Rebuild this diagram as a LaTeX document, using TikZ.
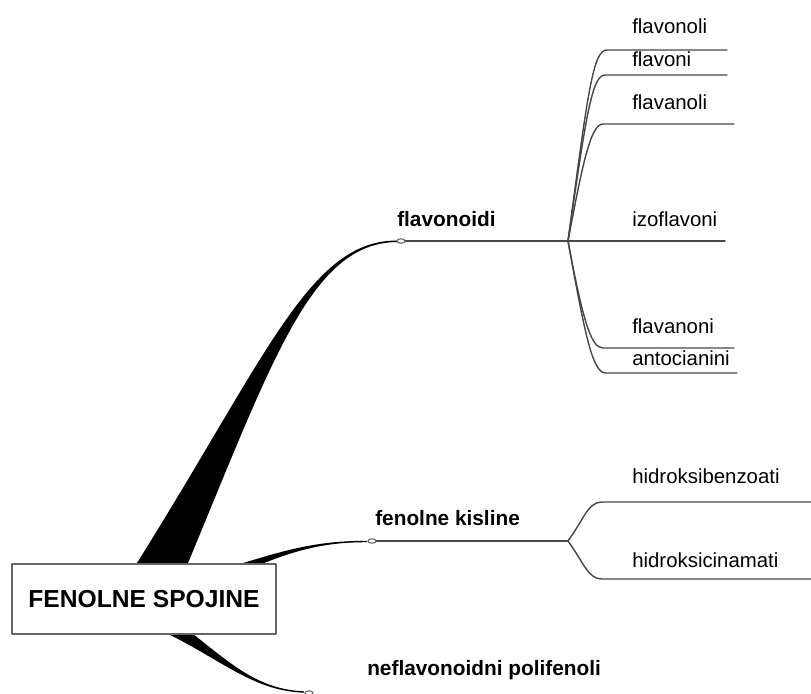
\documentclass[tikz,border=0pt]{standalone}
\usepackage{fontspec}
\setmainfont{Liberation Sans}
\usepackage{tikz}

\tikzset{
  stem/.style={fill=black},
  twig/.style={draw=black!72, line width=1pt},
  knot/.style={draw=black!60, fill=white, line width=0.8pt},
  rootbox/.style={draw=black!60, fill=white, line width=1.1pt, minimum width=6.6cm,
    minimum height=1.75cm, font=\fontsize{17.5}{20}\selectfont\bfseries},
  branch/.style={anchor=base west, inner sep=0pt, font=\fontsize{14.8}{17}\selectfont\bfseries},
  leaf/.style={anchor=base west, inner sep=0pt, font=\fontsize{14.5}{17}\selectfont},
}

\begin{document}
\begin{tikzpicture}[x=0.025cm, y=-0.025cm, line join=round, line cap=round]
\useasboundingbox (0,0) rectangle (811,693);
\coordinate (fla) at (401,241);
\coordinate (fen) at (372,541);
\coordinate (nef) at (309,693);
\coordinate (hubA) at (568,241);
\coordinate (hubB) at (568,541);
% ends of the leaf lines
\coordinate (s1) at (607,50);  \coordinate (e1) at (727,50);
\coordinate (s2) at (605,75);  \coordinate (e2) at (727,75);
\coordinate (s3) at (603,124); \coordinate (e3) at (734,124);
\coordinate (e4) at (725,241);
\coordinate (s5) at (603,348); \coordinate (e5) at (734,348);
\coordinate (s6) at (606,373); \coordinate (e6) at (737,373);
\coordinate (s7) at (602,502); \coordinate (e7) at (811,502);
\coordinate (s8) at (602,579); \coordinate (e8) at (811,579);

% tapered stems out of the box
\fill[stem] (137,563) .. controls (268,354) and (310,240.5) .. (397,240.5) -- (397,242)
  .. controls (312,243) and (274,356) .. (188,563) -- (188,570) -- (137,570) -- cycle;
\fill[stem] (240,564) .. controls (290,548.5) and (320,540.8) .. (367,540.8) -- (367,542.2)
  .. controls (320,542.2) and (290,551.5) .. (240,573) -- cycle;
\fill[stem] (164.5,612) .. controls (221,653.3) and (250,689.3) .. (304,691.3) -- (304,692.7)
  .. controls (250,690.7) and (219,656.7) .. (155.5,628) -- cycle;

\draw[twig] (fla) -- (hubA);
\draw[twig] (fen) -- (hubB);
\draw[twig] (hubA) .. controls +(20,-150) and +(-14,0) .. (s1) -- (e1);
\draw[twig] (hubA) .. controls +(18,-125) and +(-13,0) .. (s2) -- (e2);
\draw[twig] (hubA) .. controls +(15,-80) and +(-12,0) .. (s3) -- (e3);
\draw[twig] (hubA) -- (e4);
\draw[twig] (hubA) .. controls +(15,80) and +(-12,0) .. (s5) -- (e5);
\draw[twig] (hubA) .. controls +(18,100) and +(-13,0) .. (s6) -- (e6);
\draw[twig] (hubB) .. controls +(16,-22) and +(-14,0) .. (s7) -- (e7);
\draw[twig] (hubB) .. controls +(16,22) and +(-14,0) .. (s8) -- (e8);

\draw[knot] (fla) ellipse (0.1cm and 0.055cm);
\draw[knot] (fen) ellipse (0.1cm and 0.055cm);
\draw[knot] (nef) ellipse (0.1cm and 0.055cm);

\node[rootbox] (root) at (144,599) {FENOLNE SPOJINE};

\node[branch] (flavonoidi) at (397,226) {flavonoidi};
\node[branch] (kisline) at (375,525) {fenolne kisline};
\node[branch] (neflav) at (367,675) {neflavonoidni polifenoli};
\node[leaf] (flavonoli) at (632,33) {flavonoli};
\node[leaf] (flavoni) at (632,66) {flavoni};
\node[leaf] (flavanoli) at (632,109) {flavanoli};
\node[leaf] (izoflavoni) at (632,226) {izoflavoni};
\node[leaf] (flavanoni) at (632,333) {flavanoni};
\node[leaf] (antocianini) at (632,365) {antocianini};
\node[leaf] (hbenzoati) at (632,483) {hidroksibenzoati};
\node[leaf] (hcinamati) at (632,567) {hidroksicinamati};
\end{tikzpicture}
\end{document}
